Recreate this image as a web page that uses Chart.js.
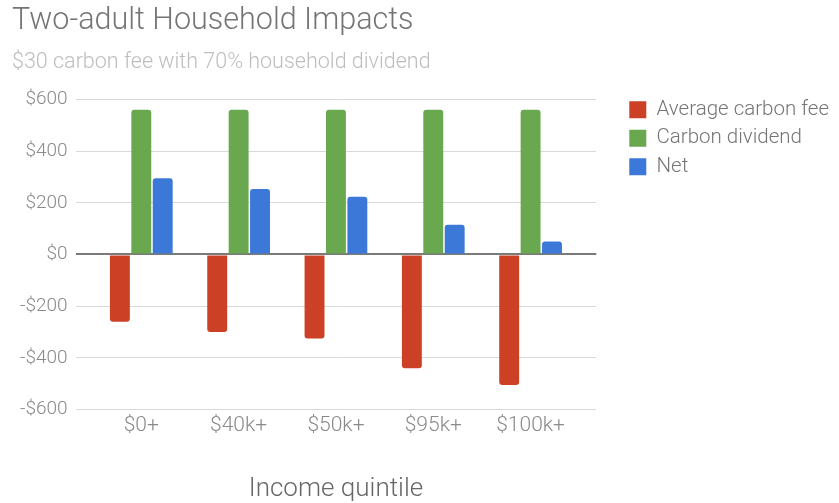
<!DOCTYPE html>
<html>
<head>
<meta charset="utf-8">
<title>Two-adult Household Impacts</title>
<script src="https://cdn.jsdelivr.net/npm/chart.js@4.4.1/dist/chart.umd.min.js"></script>
<style>
  html, body { margin: 0; padding: 0; background: #fff; }
  #wrap { width: 839px; height: 503px; }
</style>
</head>
<body>
<div id="wrap"><canvas id="impacts"></canvas></div>
<script>
  // income quintiles and yearly dollar impact per household
  var quintiles = ['$0+', '$40k+', '$50k+', '$95k+', '$100k+'];
  var carbonFee = [-260, -300, -325, -440, -505];
  var dividend = [560, 560, 560, 560, 560];
  var net = [295, 253, 223, 115, 50];
  var yTicks = [-600, -400, -200, 0, 200, 400, 600];

  var font = 'Roboto';
  var ctx = document.getElementById('impacts').getContext('2d');

  // pull the legend up so its first row sits level with the top grid line
  var legendLift = {
    id: 'legendLift',
    afterLayout: function (chart) {
      chart.legend.top -= 8;
      chart.legend.bottom -= 8;
    }
  };

  var chart = new Chart(ctx, {
    type: 'bar',
    data: {
      labels: quintiles,
      datasets: [{
        label: 'Average carbon fee',
        data: carbonFee,
        backgroundColor: '#cc4125'
      }, {
        label: 'Carbon dividend',
        data: dividend,
        backgroundColor: '#6aa84f'
      }, {
        label: 'Net',
        data: net,
        backgroundColor: '#3c78d8'
      }]
    },
    plugins: [legendLift],
    options: {
      responsive: true,
      maintainAspectRatio: false,
      animation: false,
      layout: { padding: { left: 12, right: 0, top: 0, bottom: 0 } },
      datasets: {
        bar: {
          categoryPercentage: 0.66,
          barPercentage: 0.93,
          borderRadius: 3
        }
      },
      plugins: {
        title: {
          display: true,
          text: 'Two-adult Household Impacts',
          align: 'start',
          color: '#757575',
          font: { family: font, size: 30.5, weight: '300' },
          padding: { top: 3, bottom: 0 }
        },
        subtitle: {
          display: true,
          text: '$30 carbon fee with 70% household dividend',
          align: 'start',
          color: '#bdbdbd',
          font: { family: font, size: 21.5, weight: '300' },
          padding: { top: 10, bottom: 24 }
        },
        legend: {
          position: 'right',
          align: 'start',
          fullSize: false,
          maxWidth: 260,
          labels: {
            boxWidth: 17,
            boxHeight: 17,
            padding: 8,
            color: '#757575',
            font: { family: font, size: 20.5, weight: '300' }
          }
        },
        tooltip: { enabled: false }
      },
      scales: {
        x: {
          grid: { display: false, drawTicks: false },
          border: { display: false },
          ticks: {
            color: '#8a8a8a',
            padding: 4,
            font: { family: font, size: 21, weight: '300' }
          },
          title: {
            display: true,
            text: 'Income quintile',
            color: '#666',
            font: { family: font, size: 26, weight: '300', lineHeight: 1.05 },
            padding: { top: 33, bottom: 0 }
          },
          // leave some room on both sides of the first and last group
          afterBuildTicks: function (scale) {
            scale._startValue -= 0.175;
            scale._valueRange += 0.35;
          }
        },
        y: {
          min: yTicks[0],
          max: yTicks[yTicks.length - 1],
          border: { display: false },
          grid: {
            drawTicks: false,
            color: function (c) { return c.tick && c.tick.value === 0 ? '#7a7a7a' : '#d9d9d9'; },
            lineWidth: function (c) { return c.tick && c.tick.value === 0 ? 2 : 1; }
          },
          afterBuildTicks: function (scale) {
            scale.ticks = yTicks.map(function (v) { return { value: v }; });
          },
          ticks: {
            color: '#8a8a8a',
            padding: 8,
            font: { family: font, size: 19, weight: '300' },
            callback: function (v) { return (v < 0 ? '-$' : '$') + Math.abs(v); }
          }
        },
        // empty axis that keeps a gap between the plot and the legend
        gap: {
          position: 'right',
          display: true,
          grid: { display: false, drawTicks: false },
          border: { display: false },
          ticks: { display: false },
          afterFit: function (scale) { scale.width = 25; }
        }
      }
    }
  });
</script>
</body>
</html>
